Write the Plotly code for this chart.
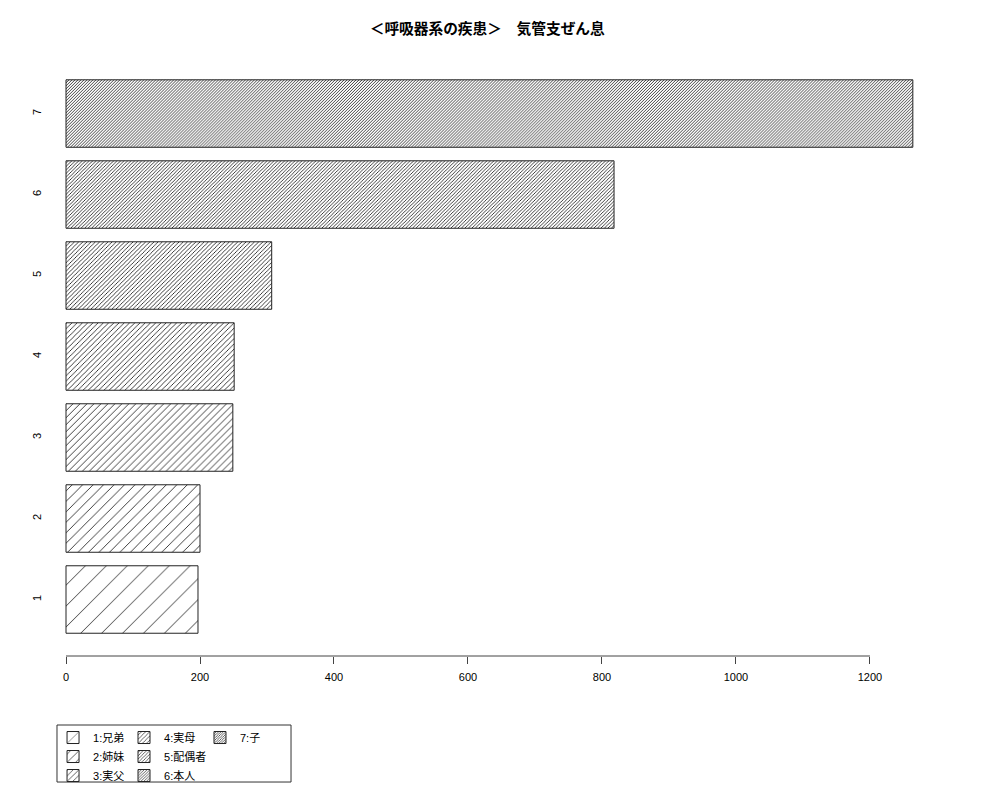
import plotly.graph_objects as go

# data
categories = ['1', '2', '3', '4', '5', '6', '7']
legend_names = ['1:兄弟', '2:姉妹', '3:実父', '4:実母', '5:配偶者', '6:本人', '7:子']
counts = [197, 200, 249, 251, 307, 818, 1264]
densities = [10, 20, 30, 40, 50, 60, 70]  # hatch density per bar, like R's density=

title_text = '<b>＜呼吸器系の疾患＞　気管支ぜん息</b>'
x_ticks = [0, 200, 400, 600, 800, 1000, 1200]

font_family = 'Liberation Sans, Arial, Noto Sans CJK JP, sans-serif'

# legend column of each entry (3 columns: 1-3, 4-6, 7)
legend_of = ['legend', 'legend', 'legend', 'legend2', 'legend2', 'legend2', 'legend3']

fig = go.Figure()
for i in range(len(categories)):
    size = 148.0 / densities[i]  # pattern tile; lines come out about size*sqrt(2) apart
    solidity = min(1.0, 0.75 / size)  # thin lines
    fig.add_trace(go.Bar(
        y=[categories[i]], x=[counts[i]], orientation='h',
        name=legend_names[i], legend=legend_of[i],
        width=0.833,
        marker=dict(color='white', line=dict(color='#222222', width=1),
                    pattern=dict(shape='/', size=size, solidity=solidity,
                                 fgcolor='black', bgcolor='white', fillmode='replace')),
        hoverinfo='x+name',
    ))

# page has an 8px body margin, so the figure is 992x792 and starts at (8, 8)
fig.update_layout(
    template='none',
    width=992, height=792,
    margin=dict(l=42, r=54, t=49, b=144, autoexpand=False),
    paper_bgcolor='white', plot_bgcolor='white',
    barmode='overlay',
    font=dict(family=font_family, size=11, color='black'),
    title=dict(text=title_text, x=0.488, xref='paper', y=0.9735, yref='container',
               xanchor='center', yanchor='middle', font=dict(size=14.7)),
    xaxis=dict(range=[-23.9, 1313.5], tickvals=x_ticks, ticks='outside', ticklen=7,
               tickcolor='#444444', showline=False, showgrid=False, zeroline=False,
               automargin=False, ticklabelstandoff=4, tickfont=dict(size=11)),
    yaxis=dict(type='category', categoryorder='array', categoryarray=categories,
               range=[-0.6975, 6.698], showgrid=False, zeroline=False, showline=False,
               automargin=False, ticks='', tickangle=-90, ticklabelstandoff=6,
               tickfont=dict(size=11)),
    legend=dict(x=0.0034, y=-0.1119, xanchor='left', yanchor='top', bgcolor='rgba(0,0,0,0)',
                font=dict(size=11), traceorder='normal'),
    legend2=dict(x=0.0826, y=-0.1119, xanchor='left', yanchor='top', bgcolor='rgba(0,0,0,0)',
                 font=dict(size=11), traceorder='normal'),
    legend3=dict(x=0.1674, y=-0.1119, xanchor='left', yanchor='top', bgcolor='rgba(0,0,0,0)',
                 font=dict(size=11), traceorder='normal'),
)

# R-style axis line from first to last tick
fig.add_shape(type='line', xref='x', yref='paper', x0=x_ticks[0], x1=x_ticks[-1], y0=0, y1=0,
              line=dict(color='#444444', width=1))
# legend box
fig.add_shape(type='rect', xref='paper', yref='paper', x0=0.0078, x1=0.269, y0=-0.1152, y1=-0.2104,
              line=dict(color='#333333', width=1))

fig.write_html('out.html')
